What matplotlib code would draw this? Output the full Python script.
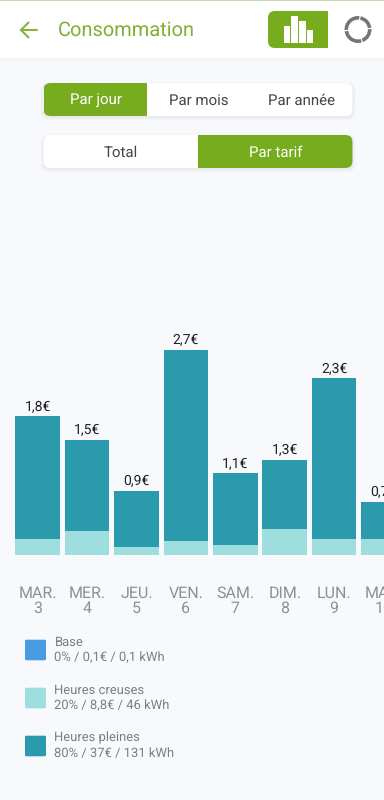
import numpy as np
import matplotlib
matplotlib.use('Agg')
from matplotlib import pyplot as plt
from matplotlib.patches import FancyBboxPatch, Rectangle, Wedge

plt.rcParams['font.family'] = ['Roboto', 'DejaVu Sans']
plt.rcParams['text.hinting'] = 'no_hinting'
plt.rcParams['text.hinting_factor'] = 1

#Chart data
days = ['MAR.', 'MER.', 'JEU.', 'VEN.', 'SAM.', 'DIM.', 'LUN.', 'MAR.']
dates = ['3', '4', '5', '6', '7', '8', '9', '10']
creuses = [0.22, 0.32, 0.105, 0.185, 0.135, 0.35, 0.21, 0.21]
pleines = [1.61, 1.20, 0.745, 2.52, 0.945, 0.91, 2.12, 0.49]
prices = ['1,8€', '1,5€', '0,9€', '2,7€', '1,1€', '1,3€', '2,3€', '0,7€']

legend_names = ['Base', 'Heures creuses', 'Heures pleines']
legend_values = ['0% / 0,1€ / 0,1 kWh', '20% / 8,8€ / 46 kWh', '80% / 37€ / 131 kWh']

GREEN = '#76ac1e'
BG = '#f7f9fd'
TEAL = '#2b9aad'
LIGHT = '#9fdede'
BLUE = '#4a9be0'
legend_colors = [BLUE, LIGHT, TEAL]

fig = plt.figure(figsize=(3.84, 8), dpi=100, facecolor=BG)

#Interface layer in pixel coordinates
ui = fig.add_axes([0, 0, 1, 1])
ui.set_xlim(0, 384)
ui.set_ylim(800, 0)
ui.axis('off')

def round_box(x0, y0, x1, y1, color, r=6, z=2):
	p = FancyBboxPatch((x0 + r, y0 + r), x1 - x0 - 2 * r, y1 - y0 - 2 * r,
		boxstyle='round,pad=%s,rounding_size=%s' % (r, r), fc=color, ec='none', zorder=z)
	ui.add_patch(p)
	return p

def shadow(x0, y0, x1, y1):
	for i in range(5, 0, -1):
		round_box(x0 - i * 0.6, y0 - i * 0.3 + 1, x1 + i * 0.6, y1 + i * 0.6 + 1, (0, 0, 0, 0.012), r=7, z=1)

def clipped_green(x0, y0, x1, y1, cx0, cx1, r=6):
	p = round_box(x0, y0, x1, y1, GREEN, r=r, z=3)
	clip = Rectangle((cx0, y0 - 1), cx1 - cx0, y1 - y0 + 2, transform=ui.transData)
	p.set_clip_path(clip)

#Header
ui.add_patch(Rectangle((0, 0), 384, 58, fc='white', ec='none', zorder=1))
ui.add_patch(Rectangle((0, 0), 384, 1.2, fc='#c9dab4', ec='none', zorder=2))
for i in range(4):
	ui.add_patch(Rectangle((0, 58), 384, 4 - i, fc=(0, 0, 0, 0.006), ec='none', zorder=1))
ui.plot([21, 37], [30, 30], color='#86b53c', lw=1.5, solid_capstyle='round', zorder=3)
ui.plot([28.5, 21, 28.5], [22.5, 30, 37.5], color='#86b53c', lw=1.5, solid_capstyle='round', zorder=3)
ui.text(58, 30.5, 'Consommation', color='#7fb032', fontsize=14.6, va='center', ha='left', zorder=3)

clipped_green(268, 11, 340, 48, 268, 328, r=7)
icon_left = [283.5, 291.2, 299, 306.8]
icon_top = [25.7, 16, 20.7, 30]
for xl, yt in zip(icon_left, icon_top):
	ui.add_patch(Rectangle((xl, yt), 6.5, 42.7 - yt, fc='white', ec='none', zorder=4))

#Donut icon
for a0, a1 in [(-78, -8), (-2, 68), (74, 172), (178, 276)]:
	ui.add_patch(Wedge((358, 29.5), 13.5, a0, a1, width=3.6, fc='#757575', ec='none', zorder=3))

#Toggles
for y0, y1 in [(83, 116), (135, 168)]:
	shadow(43.5, y0, 352.5, y1)
	round_box(43.5, y0, 352.5, y1, 'white', r=7, z=2)
clipped_green(43.5, 83, 200, 116, 43.5, 146.7, r=7)
clipped_green(150, 135, 352.5, 168, 198, 352.5, r=7)

BTN = 10.5
ui.text(95.5, 101, 'Par jour', color='white', fontsize=BTN, ha='center', va='center', zorder=4)
ui.text(198.5, 101, 'Par mois', color='#444444', fontsize=BTN, ha='center', va='center', zorder=4)
ui.text(301.5, 101, 'Par année', color='#444444', fontsize=BTN, ha='center', va='center', zorder=4)
ui.text(121, 152.5, 'Total', color='#444444', fontsize=BTN, ha='center', va='center', zorder=4)
ui.text(275.5, 152.5, 'Par tarif', color='white', fontsize=BTN, ha='center', va='center', zorder=4)

#Legend
for i in range(3):
	y = 650 + 48 * i
	round_box(25, y - 10.3, 46, y + 10.3, legend_colors[i], r=1.5)
	ui.text(54.5, y - 8, legend_names[i], color='#7b7f84', fontsize=9.6, ha='left', va='center')
	ui.text(54.5, y + 8, legend_values[i], color='#7b7f84', fontsize=9.6, ha='left', va='center')

#Bars, on their own axes: baseline at y=555.3px, 76px per euro, 49.4px per bar
ax = fig.add_axes([0, (800 - 555.3) / 800, 1, 255.3 / 800])
ax.patch.set_alpha(0)
x = np.arange(len(days))
totals = np.array(creuses) + np.array(pleines)
ax.bar(x, creuses, width=0.903, color=LIGHT)
ax.bar(x, pleines, width=0.903, bottom=creuses, color=TEAL)
for i in x:
	ax.annotate(prices[i], (i, totals[i]), xytext=(0, 2), textcoords='offset points',
		ha='center', va='bottom', fontsize=10.2, color='#222222')
ax.set_xlim(-0.763, 7.01)
ax.set_ylim(0, 255.3 / 76)
ax.set_yticks([])
ax.set_xticks(x, [d + '\n' + n for d, n in zip(days, dates)])
ax.tick_params(axis='x', length=0, pad=22, labelsize=11.2, labelcolor='#8d9196')
for lab in ax.get_xticklabels():
	lab.set_linespacing(1.0)
for s in ax.spines.values():
	s.set_visible(False)

fig.savefig('out.png', dpi=100, facecolor=BG)
